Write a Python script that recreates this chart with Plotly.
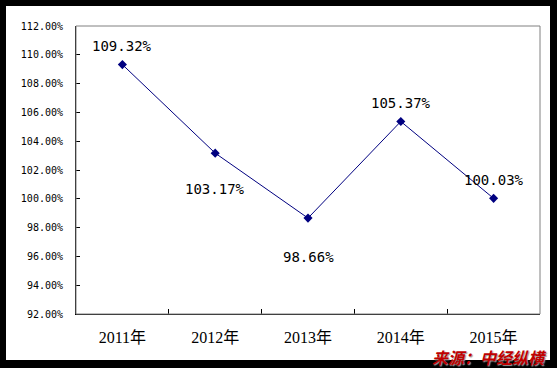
import plotly.graph_objects as go

years = ["2011年", "2012年", "2013年", "2014年", "2015年"]
values = [109.32, 103.17, 98.66, 105.37, 100.03]
label_shift = [19, -36, -39, 18, 18]
y_ticks = [92, 94, 96, 98, 100, 102, 104, 106, 108, 110, 112]
y_tick_text = [f"{v:.2f}%" for v in y_ticks]
source_text = "来源：中经纵横"

W, H = 557, 368
L, R, T, B = 76, 17, 26, 54
pw, ph = W - L - R, H - T - B

def px_x(p):
    return (p - L) / pw

def px_y(p):
    return (H - B - p) / ph

fig = go.Figure()
fig.add_trace(go.Scatter(
    x=years, y=values, mode="lines+markers",
    line=dict(color="#000080", width=1),
    marker=dict(symbol="diamond", size=7, color="#000080"),
    hoverinfo="skip", showlegend=False,
))

for x, v, s in zip(years, values, label_shift):
    fig.add_annotation(x=x, y=v, text=f"{v:.2f}%", showarrow=False,
                       yshift=s, font=dict(family="DejaVu Sans Mono", size=14, color="#000000"))

fig.add_annotation(xref="paper", yref="paper", x=px_x(549), y=px_y(357),
                   xanchor="right", yanchor="middle", text=f"<b><i>{source_text}</i></b>",
                   showarrow=False,
                   font=dict(family="Noto Sans CJK SC", size=16, color="#c00000",
                             shadow="1px 1px 1px #999999"))

fig.update_layout(
    width=W, height=H,
    margin=dict(l=L, r=R, t=T, b=B),
    paper_bgcolor="#000000",
    plot_bgcolor="#ffffff",
    shapes=[
        dict(type="rect", xref="paper", yref="paper", layer="below",
             x0=px_x(6), x1=px_x(550), y0=px_y(360), y1=px_y(6),
             fillcolor="#ffffff", line=dict(width=0)),
        dict(type="rect", xref="paper", yref="paper", layer="above",
             x0=0, x1=1, y0=0, y1=1, line=dict(color="#808080", width=1)),
    ],
    xaxis=dict(
        type="category", range=[-0.5, 4.5],
        showline=True, linecolor="#000000", linewidth=1,
        ticks="inside", ticklen=5, tickcolor="#000000", tickson="boundaries",
        showgrid=False, zeroline=False,
        tickfont=dict(family="Liberation Serif, Noto Sans CJK SC", size=16, color="#000000"),
        ticklabelstandoff=9,
    ),
    yaxis=dict(
        range=[92, 112], tickvals=y_ticks, ticktext=y_tick_text,
        showline=True, linecolor="#000000", linewidth=1,
        ticks="inside", ticklen=4, tickcolor="#000000",
        showgrid=False, zeroline=False,
        tickfont=dict(family="DejaVu Sans Mono", size=10, color="#000000"),
        ticklabelstandoff=10,
    ),
)

fig.write_html("out.html")
